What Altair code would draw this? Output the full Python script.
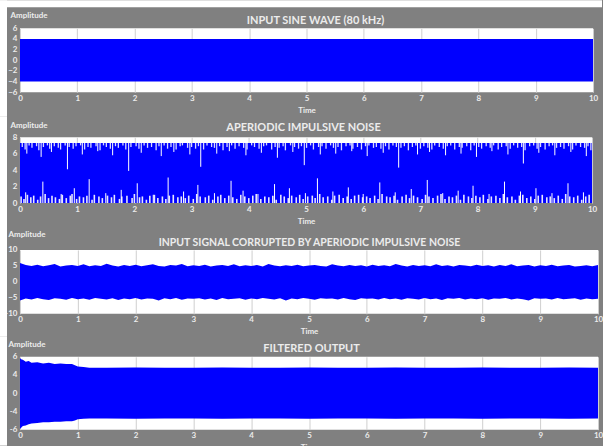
import altair as alt
import pandas as pd

FONT = "Lato, sans-serif"
BLUE = "#0000ff"
GRAY = "#808080"
TXT = "#ececec"

# ---------------- data ----------------
x_ticks = [0, 1, 2, 3, 4, 5, 6, 7, 8, 9, 10]

# Panel 1: input sine wave envelope
sine_t = [0, 10]
sine_hi = [4, 4]
sine_lo = [-4, -4]

# Panel 2: aperiodic impulsive noise
noise_t = [0, 10]
noise_top = [7.3, 7.3]
noise_bottom = [0, 0]
top_short_gap_t = [0.04, 0.09, 0.16, 0.21, 0.29, 0.33, 0.41, 0.48, 0.52, 0.6, 0.67, 0.71, 0.79, 0.86,
                   0.93, 0.98, 1.06, 1.13, 1.19, 1.24, 1.33, 1.4, 1.46, 1.51, 1.58, 1.67, 1.72, 1.8,
                   1.85, 1.94, 2.03, 2.08, 2.17, 2.23, 2.3, 2.38, 2.43, 2.52, 2.58, 2.64, 2.73, 2.8,
                   2.84, 2.93, 3.0, 3.07, 3.12, 3.21, 3.27, 3.35, 3.4, 3.49, 3.55, 3.62, 3.7, 3.76,
                   3.83, 3.91, 3.97, 4.05, 4.1, 4.18, 4.26, 4.31, 4.4, 4.46, 4.53, 4.6, 4.64, 4.73,
                   4.8, 4.87, 4.92, 5.01, 5.08, 5.13, 5.22, 5.28, 5.35, 5.43, 5.48, 5.56, 5.62, 5.7,
                   5.77, 5.82, 5.9, 5.97, 6.04, 6.1, 6.18, 6.23, 6.31, 6.39, 6.45, 6.52, 6.58, 6.66,
                   6.72, 6.79, 6.86, 6.92, 7.0, 7.06, 7.13, 7.2, 7.25, 7.33, 7.4, 7.47, 7.53, 7.6,
                   7.68, 7.73, 7.81, 7.88, 7.94, 8.02, 8.07, 8.15, 8.22, 8.28, 8.36, 8.42, 8.5, 8.57,
                   8.63, 8.7, 8.77, 8.83, 8.91, 8.98, 9.04, 9.1, 9.18, 9.25, 9.31, 9.38, 9.45, 9.51,
                   9.59, 9.66, 9.72, 9.8, 9.87, 9.93, 9.98]
top_short_gap_lo = [6.8, 6.5, 7.0, 6.7, 6.9, 6.4, 6.8, 7.0, 6.6, 6.9, 6.7, 6.5, 7.0, 6.8,
                    6.6, 6.9, 7.0, 6.5, 6.8, 6.7, 6.9, 6.4, 7.0, 6.8, 6.6, 6.9, 6.7, 7.0,
                    6.5, 6.8, 6.9, 6.6, 7.0, 6.7, 6.8, 6.4, 6.9, 7.0, 6.6, 6.8, 6.5, 6.9,
                    7.0, 6.7, 6.8, 6.6, 6.9, 6.5, 7.0, 6.8, 6.7, 6.9, 6.4, 6.8, 7.0, 6.6,
                    6.9, 6.7, 6.5, 7.0, 6.8, 6.6, 6.9, 7.0, 6.5, 6.8, 6.7, 6.9, 6.4, 7.0,
                    6.8, 6.6, 6.9, 6.7, 7.0, 6.5, 6.8, 6.9, 6.6, 7.0, 6.7, 6.8, 6.4, 6.9,
                    7.0, 6.6, 6.8, 6.5, 6.9, 7.0, 6.7, 6.8, 6.6, 6.9, 6.5, 7.0, 6.8, 6.7,
                    6.9, 6.4, 6.8, 7.0, 6.6, 6.9, 6.7, 6.5, 7.0, 6.8, 6.6, 6.9, 7.0, 6.5,
                    6.8, 6.7, 6.9, 6.4, 7.0, 6.8, 6.6, 6.9, 6.7, 7.0, 6.5, 6.8, 6.9, 6.6,
                    7.0, 6.7, 6.8, 6.4, 6.9, 7.0, 6.6, 6.8, 6.5, 6.9, 7.0, 6.7, 6.8, 6.6,
                    6.9, 6.5, 7.0, 6.8, 6.7, 6.9, 6.4]
top_long_gap_t = [0.12, 0.37, 0.55, 0.83, 1.09, 1.36, 1.62, 1.9, 2.12, 2.47, 2.69, 2.97, 3.16,
                  3.44, 3.66, 3.95, 4.22, 4.5, 4.77, 4.97, 5.25, 5.52, 5.8, 6.07, 6.35, 6.62,
                  6.95, 7.16, 7.44, 7.71, 7.98, 8.25, 8.53, 8.8, 9.07, 9.35, 9.63, 9.9]
top_long_gap_lo = [6.0, 5.6, 6.2, 4.1, 5.9, 6.3, 5.8, 3.9, 6.1, 5.7, 6.2, 5.9, 4.4, 6.0, 6.3,
                   5.8, 6.1, 5.5, 6.2, 4.6, 5.9, 6.0, 6.3, 5.7, 6.1, 4.3, 5.9, 6.2, 5.8, 6.0,
                   5.6, 6.3, 5.9, 4.8, 6.1, 5.8, 6.2, 5.7]
bot_short_gap_t = [0.02, 0.07, 0.13, 0.19, 0.24, 0.31, 0.36, 0.44, 0.5, 0.56, 0.62, 0.69, 0.74,
                   0.81, 0.88, 0.91, 0.99, 1.04, 1.11, 1.17, 1.26, 1.3, 1.38, 1.44, 1.53, 1.6,
                   1.65, 1.74, 1.78, 1.87, 1.96, 2.0, 2.09, 2.14, 2.21, 2.27, 2.35, 2.41, 2.49,
                   2.55, 2.61, 2.68, 2.76, 2.82, 2.89, 2.95, 3.03, 3.09, 3.15, 3.24, 3.3, 3.37,
                   3.46, 3.51, 3.58, 3.65, 3.72, 3.79, 3.86, 3.93, 4.0, 4.07, 4.13, 4.21, 4.28,
                   4.35, 4.42, 4.48, 4.56, 4.62, 4.69, 4.75, 4.83, 4.89, 4.95, 5.03, 5.11, 5.16,
                   5.24, 5.3, 5.38, 5.45, 5.5, 5.58, 5.65, 5.72, 5.79, 5.85, 5.92, 5.99, 6.06,
                   6.12, 6.2, 6.26, 6.33, 6.41, 6.47, 6.54, 6.6, 6.68, 6.75, 6.81, 6.88, 6.95,
                   7.03, 7.09, 7.15, 7.22, 7.3, 7.36, 7.43, 7.5, 7.56, 7.63, 7.7, 7.76, 7.84,
                   7.9, 7.97, 8.04, 8.1, 8.18, 8.24, 8.32, 8.39, 8.45, 8.52, 8.6, 8.66, 8.73,
                   8.79, 8.86, 8.93, 9.0, 9.06, 9.13, 9.21, 9.27, 9.34, 9.41, 9.48, 9.54, 9.61,
                   9.68, 9.75, 9.82, 9.89, 9.95]
bot_short_gap_hi = [0.8, 0.5, 1.0, 0.7, 0.9, 0.4, 0.8, 1.1, 0.6, 0.9, 0.7, 0.5, 1.0,
                    0.6, 0.9, 1.1, 0.5, 0.8, 0.7, 0.9, 0.4, 1.0, 0.8, 0.6, 0.9, 0.7,
                    1.0, 0.5, 0.8, 0.9, 0.6, 1.1, 0.7, 0.8, 0.4, 0.9, 1.0, 0.6, 0.8,
                    0.5, 0.9, 1.0, 0.7, 0.8, 0.6, 0.9, 0.5, 1.1, 0.8, 0.7, 0.9, 0.4,
                    0.8, 1.0, 0.6, 0.9, 0.7, 0.5, 1.0, 0.8, 0.6, 0.9, 1.1, 0.5, 0.8,
                    0.7, 0.9, 0.4, 1.0, 0.8, 0.6, 0.9, 0.7, 1.0, 0.5, 0.8, 0.9, 0.6,
                    1.1, 0.7, 0.8, 0.4, 0.9, 1.0, 0.6, 0.8, 0.5, 0.9, 1.0, 0.7, 0.8,
                    0.6, 0.9, 0.5, 1.1, 0.8, 0.7, 0.9, 0.4, 0.8, 1.0, 0.6, 0.9, 0.7,
                    0.5, 1.0, 0.8, 0.6, 0.9, 1.1, 0.5, 0.8, 0.7, 0.9, 0.4, 1.0, 0.8,
                    0.6, 0.9, 0.7, 1.0, 0.5, 0.8, 0.9, 0.6, 1.1, 0.7, 0.8, 0.4, 0.9,
                    1.0, 0.6, 0.8, 0.5, 0.9, 1.0, 0.7, 0.8, 0.6, 0.9, 0.5, 1.1, 0.8,
                    0.7, 0.9, 0.4, 0.8, 1.0]
bot_long_gap_t = [0.1, 0.4, 0.72, 0.95, 1.21, 1.5, 1.77, 2.05, 2.33, 2.59, 2.86, 3.11, 3.4,
                  3.69, 3.9, 4.16, 4.45, 4.71, 4.99, 5.2, 5.47, 5.74, 6.0, 6.29, 6.56, 6.84,
                  7.12, 7.39, 7.66, 7.92, 8.2, 8.47, 8.75, 9.02, 9.3, 9.58, 9.85]
bot_long_gap_hi = [1.3, 2.6, 1.1, 1.8, 2.9, 1.2, 1.6, 2.4, 1.0, 3.1, 1.4, 2.2, 1.2, 2.7, 1.5,
                   1.1, 2.3, 1.8, 1.2, 3.0, 1.4, 1.9, 1.1, 2.5, 1.3, 1.7, 2.8, 1.2, 1.5, 2.1,
                   1.1, 2.6, 1.4, 1.8, 1.2, 2.4, 1.3]

# Panel 3: corrupted input envelope (0.1 s steps)
corr_t = [round(i * 0.1, 1) for i in range(101)]
corr_hi = [5.9, 5.3, 5.0, 5.4, 4.9, 5.2, 5.6, 4.8, 5.1, 5.3, 5.0,
           5.5, 4.9, 5.2, 5.0, 5.7, 5.1, 4.8, 5.3, 5.0, 5.4,
           4.9, 5.2, 5.5, 5.0, 4.8, 5.3, 5.1, 5.6, 4.9, 5.2,
           5.0, 5.4, 4.8, 5.1, 5.3, 5.0, 5.5, 4.9, 5.2, 5.0,
           5.3, 4.8, 5.6, 5.1, 4.9, 5.2, 5.0, 5.4, 4.9, 5.1,
           5.3, 5.0, 4.8, 5.5, 5.1, 4.9, 5.3, 5.0, 5.2, 4.8,
           5.4, 5.0, 5.2, 4.9, 5.6, 5.1, 4.8, 5.3, 5.0, 5.2,
           4.9, 5.5, 5.0, 5.2, 4.8, 5.3, 5.1, 4.9, 5.4, 5.0,
           5.2, 4.8, 5.3, 5.0, 5.5, 4.9, 5.1, 5.3, 4.8, 5.2,
           5.0, 5.4, 4.9, 5.1, 5.3, 4.8, 5.0, 5.2, 4.9, 5.3]
corr_lo = [-5.8, -5.2, -5.5, -5.0, -5.4, -5.7, -5.1, -5.3, -5.6, -5.0, -5.4,
           -5.2, -5.6, -5.0, -5.3, -5.5, -5.1, -5.7, -5.2, -5.4, -5.0,
           -5.5, -5.2, -5.3, -5.8, -5.1, -5.4, -5.0, -5.6, -5.2, -5.3,
           -5.1, -5.5, -5.2, -5.7, -5.0, -5.4, -5.3, -5.1, -5.6, -5.2,
           -5.4, -5.0, -5.3, -5.5, -5.1, -5.8, -5.2, -5.4, -5.0, -5.3,
           -5.6, -5.1, -5.3, -5.2, -5.5, -5.0, -5.4, -5.7, -5.1, -5.3,
           -5.2, -5.5, -5.0, -5.4, -5.2, -5.6, -5.1, -5.3, -5.5, -5.0,
           -5.4, -5.2, -5.7, -5.1, -5.3, -5.0, -5.5, -5.2, -5.4, -5.1,
           -5.6, -5.2, -5.3, -5.0, -5.5, -5.2, -5.4, -5.8, -5.1, -5.3,
           -5.2, -5.5, -5.0, -5.4, -5.3, -5.1, -5.6, -5.2, -5.4, -5.3]

# Panel 4: filtered output envelope
filt_t = [0, 0.02, 0.05, 0.1, 0.15, 0.2, 0.3, 0.4, 0.5, 0.6, 0.7, 0.8, 0.9, 0.95, 1.0, 1.1,
          1.2, 1.5, 2, 2.5, 3, 3.5, 4, 4.5, 5, 5.5, 6, 6.5, 7, 7.5, 8, 8.5, 9, 9.5, 10]
filt_hi = [5.8, 5.6, 5.5, 5.2, 5.3, 5.0, 5.1, 4.9, 5.0, 4.8, 4.9, 4.8, 4.8, 4.6, 4.4, 4.3,
           4.2, 4.2, 4.25, 4.2, 4.2, 4.25, 4.2, 4.2, 4.25, 4.2, 4.2, 4.25, 4.2, 4.2, 4.25, 4.2,
           4.2, 4.25, 4.2]
filt_lo = [-5.9, -5.7, -5.4, -5.3, -5.1, -5.0, -4.9, -4.8, -4.8, -4.7, -4.7, -4.6, -4.6, -4.5,
           -4.3, -4.2, -4.15, -4.15, -4.2, -4.15, -4.15, -4.2, -4.15, -4.15, -4.2, -4.15, -4.15,
           -4.2, -4.15, -4.15, -4.2, -4.15, -4.15, -4.2, -4.15]
# tick positions of panel 4 and the labels printed at them
filt_tick_pos = [6, 3, 0, -3, -6]
filt_tick_txt = ["6", "4", "0", "-4", "-6"]

# panel titles
titles = ["INPUT SINE WAVE (80 kHz)", "APERIODIC IMPULSIVE NOISE",
          "INPUT SIGNAL CORRUPTED BY APERIODIC IMPULSIVE NOISE", "FILTERED OUTPUT"]

# ---------------- helpers ----------------
X_AXIS = alt.Axis(values=x_ticks, title="Time", format="d", grid=True, gridColor="#cfcfcf",
                  gridWidth=1, domain=False, ticks=False, labelPadding=2, titlePadding=4,
                  labelFontSize=8, labelFontWeight="bold", labelColor=TXT, labelFont=FONT,
                  titleFontSize=8, titleFontWeight="bold", titleColor=TXT, titleFont=FONT,
                  labelOverlap=False, labelFlush=False, labelBound=False)
X_SCALE = alt.Scale(domain=[0, 10], nice=False, zero=False)


def y_axis(vals, ax, ay, label_expr=None):
    kw = {}
    if label_expr:
        kw["labelExpr"] = label_expr
    return alt.Axis(values=vals, title="Amplitude", titleAngle=0, titleAlign="left",
                    titleBaseline="middle", titleX=ax, titleY=ay, grid=False, domain=False,
                    ticks=False, labelPadding=3, labelFontSize=8, labelFontWeight="bold",
                    labelColor=TXT, labelFont=FONT, titleFontSize=8, titleFontWeight="bold",
                    titleColor=TXT, titleFont=FONT, labelOverlap=False, labelFlush=False,
                    labelBound=False, format="d", **kw)


strip_df = pd.DataFrame({"k": [0]})


def head(text, xc, yb, size=11):
    return alt.Chart(strip_df).mark_text(
        text=text, font=FONT, fontSize=size, fontWeight="bold", color=TXT,
        align="center", baseline="alphabetic").encode(x=alt.value(xc), y=alt.value(yb))


def envelope(t, hi, lo, yscale, yaxis):
    df = pd.DataFrame({"t": t, "hi": hi, "lo": lo})
    return alt.Chart(df).mark_area(color=BLUE, opacity=1, interpolate="linear").encode(
        x=alt.X("t:Q", scale=X_SCALE, axis=X_AXIS),
        y=alt.Y("hi:Q", scale=yscale, axis=yaxis),
        y2="lo:Q",
    )


def band(top, bottom):
    # white page margin on the left; its extent also fixes the panel's layout bounds
    return alt.Chart(strip_df).mark_rect(color="white").encode(
        x=alt.value(-20), x2=alt.value(-13), y=alt.value(top), y2=alt.value(bottom))


# ---------------- panel 1 ----------------
ys1 = alt.Scale(domain=[-6, 6], nice=False, zero=False)
ya1 = y_axis([6, 4, 2, 0, -2, -4, -6], -10, -13)
p1_env = envelope(sine_t, sine_hi, sine_lo, ys1, ya1)
top_strip = alt.Chart(strip_df).mark_rect(color="white").encode(
    x=alt.value(-20), x2=alt.value(583), y=alt.value(-28), y2=alt.value(-21))
p1 = alt.layer(band(-28, 88), top_strip, p1_env, head(titles[0], 296, -4)).properties(
    width=574, height=64)

# ---------------- panel 2 ----------------
ys2 = alt.Scale(domain=[0, 8], nice=False, zero=False)
ya2 = y_axis([8, 6, 4, 2, 0], -10, -12)
p2_env = envelope(noise_t, noise_top, noise_bottom, ys2, ya2)
n = len(top_short_gap_t)
ts_df = pd.DataFrame({"t": top_short_gap_t, "lo": top_short_gap_lo[:n], "hi": noise_top[0]})
tl_df = pd.DataFrame({"t": top_long_gap_t, "lo": top_long_gap_lo, "hi": noise_top[0]})
m = len(bot_short_gap_t)
bs_df = pd.DataFrame({"t": bot_short_gap_t, "lo": noise_bottom[0], "hi": bot_short_gap_hi[:m]})
bl_df = pd.DataFrame({"t": bot_long_gap_t, "lo": noise_bottom[0], "hi": bot_long_gap_hi})


def gaps(df, w=1.0, op=1.0):
    return alt.Chart(df).mark_rule(color="white", strokeWidth=w, opacity=op).encode(
        x=alt.X("t:Q", scale=X_SCALE, axis=X_AXIS),
        y=alt.Y("lo:Q", scale=ys2, axis=ya2), y2="hi:Q")


p2 = alt.layer(band(-21, 91), p2_env, gaps(ts_df, 1.3, 0.85), gaps(tl_df, 1.0),
               gaps(bs_df, 1.6, 0.9), gaps(bl_df, 1.0),
               head(titles[1], 284, -6)).properties(width=573, height=66)

# ---------------- panel 3 ----------------
ys3 = alt.Scale(domain=[-10, 10], nice=False, zero=False)
ya3 = y_axis([10, 5, 0, -5, -10], -12, -15)
p3_env = envelope(corr_t, corr_hi, corr_lo, ys3, ya3)
p3 = alt.layer(band(-22, 87), p3_env, head(titles[2], 290, -4, 10.5)).properties(
    width=579, height=64)

# ---------------- panel 4 ----------------
ys4 = alt.Scale(domain=[-6, 6], nice=False, zero=False)
lbl = "{" + ", ".join(f"'{p}': '{s}'" for p, s in zip(filt_tick_pos, filt_tick_txt)) + "}"
ya4 = y_axis(filt_tick_pos, -12, -12, label_expr=f"{lbl}[datum.value + '']")
p4_env = envelope(filt_t, filt_hi, filt_lo, ys4, ya4)
p4 = alt.layer(band(-20, 89), p4_env, head(titles[3], 292, -5)).properties(
    width=579, height=73)

chart = alt.vconcat(p1, p2, p3, p4, spacing=0).properties(
    padding=0, background=GRAY
).configure_view(fill="white", stroke=None)

chart.save("out.html", embed_options={"renderer": "svg", "actions": False})
